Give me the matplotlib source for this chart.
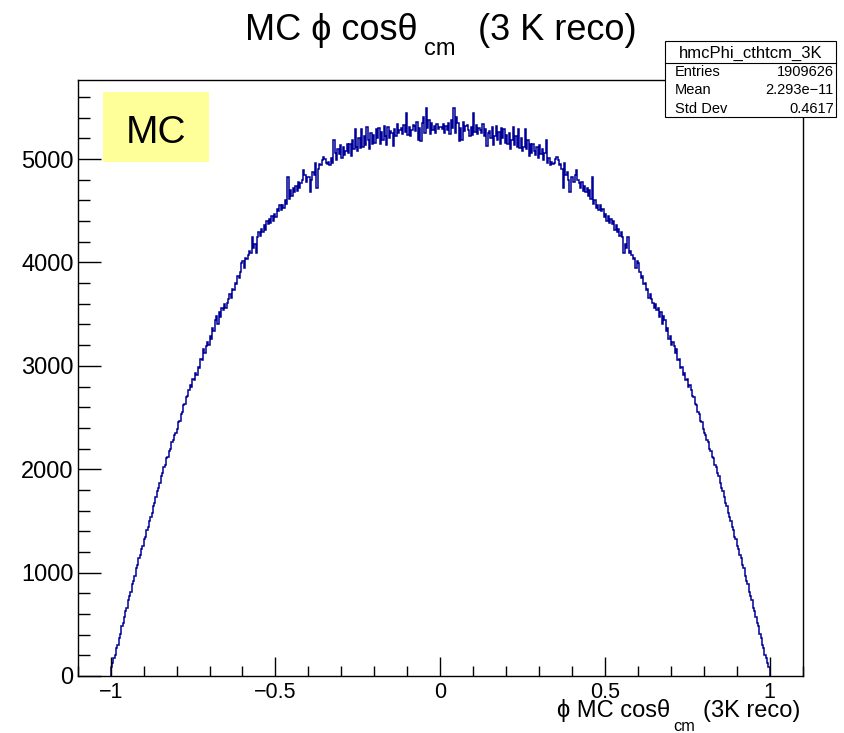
import matplotlib
matplotlib.use("Agg")
import matplotlib.pyplot as plt
from matplotlib.patches import Rectangle
from matplotlib.ticker import MultipleLocator
import numpy as np

plt.rcParams['font.family'] = ['Liberation Sans', 'DejaVu Sans']

# bin contents, left half (cos from -1 to 0, 250 bins of 0.004)
# the histogram is filled symmetrically, right half is the mirror
counts_edge = [88, 121, 170, 205, 268, 301, 372, 410, 482, 515,
               566, 631, 660, 735, 770, 815, 889, 915, 968, 1040,
               1071, 1140, 1168, 1230, 1259, 1325, 1349, 1412, 1437, 1495,
               1540, 1575, 1642, 1669, 1733, 1790, 1815, 1862, 1931, 1960,
               2022, 2041, 2105, 2118, 2180, 2196, 2260, 2279, 2335, 2350]
counts_rise = [2388, 2452, 2470, 2535, 2549, 2618, 2631, 2702, 2705, 2771,
               2810, 2795, 2868, 2861, 2930, 2915, 2990, 2978, 3065, 3052,
               3160, 3120, 3190, 3230, 3205, 3290, 3262, 3370, 3340, 3445,
               3480, 3402, 3520, 3470, 3555, 3540, 3600, 3560, 3610, 3650,
               3690, 3660, 3745, 3735, 3800, 3790, 3870, 3850, 3905, 3990]
counts_shoulder = [4010, 3950, 4040, 4030, 4075, 4110, 4090, 4250, 4140, 4180,
                   4090, 4245, 4290, 4260, 4320, 4295, 4360, 4310, 4400, 4370,
                   4420, 4380, 4450, 4405, 4470, 4440, 4520, 4500, 4560, 4505,
                   4560, 4530, 4600, 4570, 4830, 4610, 4700, 4640, 4720, 4680,
                   4740, 4690, 4780, 4720, 4770, 4800, 4890, 4850, 4780, 4830]
counts_upper = [4830, 4680, 4800, 4870, 4850, 4960, 4720, 4900, 4950, 4940,
                4990, 5020, 5000, 4960, 4955, 4970, 4940, 5010, 4960, 5180,
                5060, 4990, 5100, 5050, 5140, 5010, 5120, 5040, 5080, 5150,
                5060, 5150, 5030, 5180, 5100, 5290, 5120, 5080, 5200, 5110,
                5290, 5120, 5220, 5140, 5310, 5180, 5100, 5250, 5150, 5230]
counts_top = [5160, 5290, 5200, 5300, 5150, 5260, 5180, 5320, 5220, 5140,
              5310, 5200, 5270, 5250, 5130, 5290, 5220, 5340, 5250, 5280,
              5300, 5240, 5330, 5260, 5450, 5230, 5310, 5220, 5280, 5330,
              5320, 5270, 5360, 5180, 5300, 5170, 5350, 5410, 5250, 5490,
              5300, 5380, 5240, 5350, 5280, 5320, 5250, 5340, 5290, 5310]

n_bins = 500
x_lo, x_hi = -1.0, 1.0
xticks = [-1, -0.5, 0, 0.5, 1]
xticklabels = ['\u22121', '\u22120.5', '0', '0.5', '1']
yticks = [0, 1000, 2000, 3000, 4000, 5000]

stats_name = 'hmcPhi_cthtcm_3K'
stats_rows = [('Entries', '1909626'), ('Mean', '2.293e\u221211'), ('Std Dev', '0.4617')]

left = np.array(counts_edge + counts_rise + counts_shoulder + counts_upper + counts_top)
counts = np.concatenate([left, left[::-1]])
edges = np.linspace(x_lo, x_hi, n_bins + 1)

W, H = 845, 733
def fx(x):
    return x / W
def fy(y):
    return 1 - y / H

fig = plt.figure(figsize=(W / 100, H / 100), dpi=100)
ax = fig.add_axes([fx(77.7), fy(676), (802.7 - 77.7) / W, (676 - 80) / H])

ax.stairs(counts, edges, baseline=0, color='#000099', lw=1.1)
ax.set_xlim(-1.1, 1.1)
ax.set_ylim(0, 1.05 * counts.max())

ax.set_xticks(xticks)
ax.set_xticklabels(xticklabels)
ax.set_yticks(yticks)
ax.xaxis.set_minor_locator(MultipleLocator(0.1))
ax.yaxis.set_minor_locator(MultipleLocator(200))
ax.tick_params(axis='x', which='major', direction='in', length=13.5, width=1, labelsize=15.5, pad=4)
ax.tick_params(axis='x', which='minor', direction='in', length=7, width=1)
ax.tick_params(axis='y', which='major', direction='in', length=16.5, width=1, labelsize=17, pad=3)
ax.tick_params(axis='y', which='minor', direction='in', length=8.5, width=1)
for sp in ax.spines.values():
    sp.set_linewidth(1.0)

# title, built in pieces for the low subscript
fig.text(fx(245), fy(40), 'MC \u03d5 cos\u03b8', fontsize=26, va='baseline', ha='left')
fig.text(fx(424), fy(55), 'cm', fontsize=17, va='baseline', ha='left')
fig.text(fx(637), fy(40), '(3 K reco)', fontsize=26, va='baseline', ha='right')

# x axis title
fig.text(fx(556.7), fy(716.7), '\u03d5 MC cos\u03b8', fontsize=17, va='baseline', ha='left')
fig.text(fx(673.3), fy(731), 'cm', fontsize=11.7, va='baseline', ha='left')
fig.text(fx(703.3), fy(716.7), '(3K reco)', fontsize=17, va='baseline', ha='left')

# MC label
fig.add_artist(Rectangle((fx(103.3), fy(161.7)), (209.3 - 103.3) / W, (161.7 - 91.7) / H,
                         transform=fig.transFigure, facecolor='#ffff99', edgecolor='none', zorder=2))
fig.text(fx(156), fy(142.7), 'MC', fontsize=28, va='baseline', ha='center', zorder=3)

# stats box
fig.add_artist(Rectangle((fx(665), fy(117.3)), (836 - 665) / W, (117.3 - 41) / H,
                         transform=fig.transFigure, facecolor='white', edgecolor='black',
                         lw=0.8, zorder=4))
fig.add_artist(plt.Line2D([fx(665), fx(836)], [fy(63.3), fy(63.3)],
                          transform=fig.transFigure, color='black', lw=0.8, zorder=5))
fig.text(fx(750.5), fy(58), stats_name, fontsize=12, va='baseline', ha='center', zorder=6)
for (name, val), yb in zip(stats_rows, [76, 94.3, 112.7]):
    fig.text(fx(675), fy(yb), name, fontsize=10.5, va='baseline', ha='left', zorder=6)
    fig.text(fx(834), fy(yb), val, fontsize=10.5, va='baseline', ha='right', zorder=6)

fig.savefig('out.png', dpi=100)
